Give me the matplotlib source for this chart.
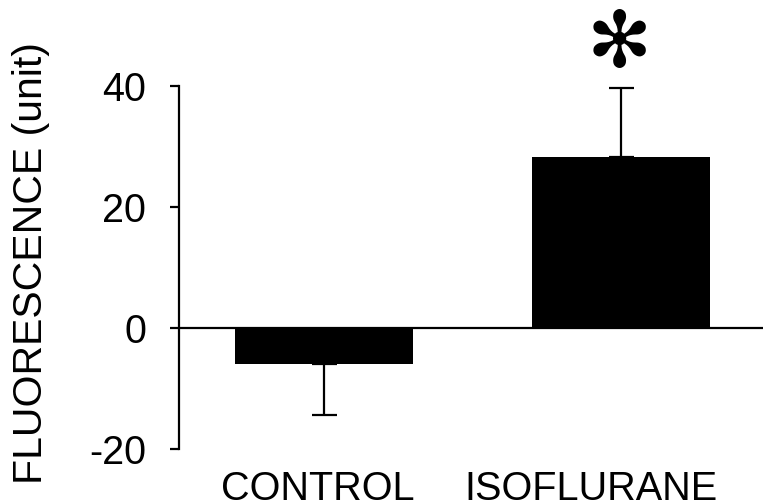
import matplotlib
matplotlib.use("Agg")
import matplotlib.pyplot as plt
from matplotlib.transforms import ScaledTranslation

categories = ["CONTROL", "ISOFLURANE"]
values = [-6.0, 28.3]
errors = [8.4, 11.4]
err_dirs = [-1, 1]
yticks = [-20, 0, 20, 40]
ylabel = "FLUORESCENCE (unit)"
star_text = "\u273B"

plt.rcParams['font.family'] = ['Liberation Sans', 'DejaVu Sans']

fig = plt.figure(figsize=(7.63, 5.04), dpi=100)
W, H = 763, 504
ax = fig.add_axes([179 / W, 1 - 449 / H, (763 - 179) / W, (449 - 86) / H])

x = list(range(len(categories)))
ax.bar(x, values, width=0.6, color='black', zorder=3)
for xi, v, e, d in zip(x, values, errors, err_dirs):
    yerr = [[0], [e]] if d > 0 else [[e], [0]]
    ax.errorbar(xi, v, yerr=yerr, fmt='none', ecolor='black',
                elinewidth=1.6, capsize=9, capthick=1.6, zorder=2)

ax.axhline(0, color='black', lw=1.6, zorder=4)

ax.set_xlim(-0.488, 1.478)
ax.set_ylim(-20, 40)
ax.set_yticks(yticks)
ax.set_yticklabels([str(t) for t in yticks], fontsize=28.5)
ax.tick_params(axis='y', length=6.5, width=1.6, pad=17)
ax.set_xticks([])

for s in ['top', 'right', 'bottom']:
    ax.spines[s].set_visible(False)
ax.spines['left'].set_linewidth(1.6)

# category labels (shifted left as in the original figure)
label_shift_px = [-6.5, -30]
for xi, name, sh in zip(x, categories, label_shift_px):
    tr = ax.get_xaxis_transform() + ScaledTranslation(sh / 100, -51 / 100, fig.dpi_scale_trans)
    ax.text(xi, 0, name, transform=tr, ha='center', va='baseline',
            fontsize=28.5, clip_on=False)

fig.text(31 / W, 1 - 263 / H, ylabel, rotation=90, ha='center', va='center',
         fontsize=29.5)

ax.text(0.995, 46.8, star_text, ha='center', va='center', fontsize=56,
        family=['DejaVu Sans'], clip_on=False)

fig.savefig("out.png", dpi=100)
